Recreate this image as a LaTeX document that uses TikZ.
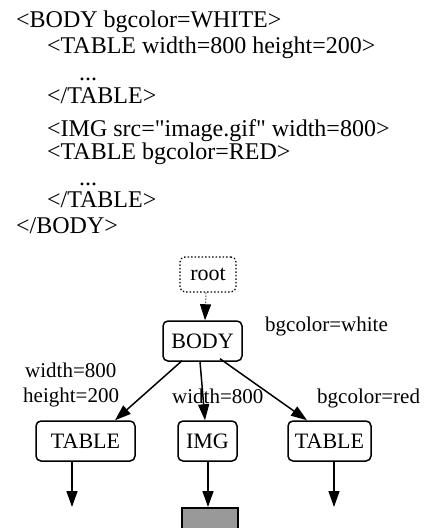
\documentclass[tikz,border=0pt]{standalone}
\usepackage{fontspec}
\setmainfont{Liberation Serif}[Ligatures=TeXOff]
\usetikzlibrary{arrows.meta,calc}
\definecolor{boxgray}{gray}{0.6}
\begin{document}
\begin{tikzpicture}[x=1pt,y=-1pt,
  code/.style={anchor=base west,inner sep=0pt,font=\fontsize{24}{28}\selectfont},
  elabel/.style={anchor=base west,inner sep=0pt,font=\fontsize{21}{25}\selectfont},
  treenode/.style={draw,rounded corners=5pt,line width=1.5pt,inner sep=0pt,
    font=\fontsize{22}{26}\selectfont,minimum height=40pt},
  conn/.style={line width=1.5pt,-{Triangle[length=16pt,width=11pt]}},
]
\useasboundingbox (0,0) rectangle (426,528);
\clip (0,0) rectangle (426,528);

% HTML source
\node[code] (c1) at (16,27.7) {<BODY bgcolor=WHITE>};
\node[code] (c2) at (47,53.3) {<TABLE width=800 height=200>};
\node[code] (c3) at (79,80) {...};
\node[code] (c4) at (47,103) {</TABLE>};
\node[code] (c5) at (47,136) {<IMG src="image.gif" width=800>};
\node[code] (c6) at (47,159) {<TABLE bgcolor=RED>};
\node[code] (c7) at (79,185) {...};
\node[code] (c8) at (47,207) {</TABLE>};
\node[code] (c9) at (16,233) {</BODY>};

% tree nodes
\node[treenode,dotted,line width=1.2pt,minimum width=56pt,minimum height=35pt] (root) at (208,274.5) {root};
\node[treenode,minimum width=79pt] (body) at (202.5,341) {BODY};
\node[treenode,minimum width=99pt] (t1) at (85.5,441) {TABLE};
\node[treenode,minimum width=59pt] (img) at (207.5,441) {IMG};
\node[treenode,minimum width=83pt] (t2) at (329.5,441) {TABLE};
\node[draw,fill=boxgray,line width=1.5pt,minimum width=56pt,minimum height=40pt,
  inner sep=0pt,anchor=north] (pic) at (210,507) {};
\coordinate (e1) at (72,507);
\coordinate (e3) at (334,507);

% edge labels
\node[elabel] (lbg) at (265,331) {bgcolor=white};
\node[elabel] (lw1) at (25,377) {width=800};
\node[elabel] (lh1) at (23,402) {height=200};
\node[elabel] (lw2) at (172,403) {width=800};
\node[elabel] (lbr) at (317,403) {bgcolor=red};

% connectors
\draw[conn,line width=1pt,dotted] ($(root.south)+(-2,0)$) -- ($(body.north)+(2.5,0)$);
\draw[conn] ($(body.south)+(-20.5,-1)$) -- ($(t1.north)+(29.5,0)$);
\draw[conn] ($(body.south)+(-2.5,0)$) -- ($(img.north)+(-2.5,0)$);
\draw[conn] ($(body.south)+(17.5,-3)$) -- ($(t2.north)+(-22.5,0)$);
\draw[conn] ($(t1.south)+(-13.5,0)$) -- (e1);
\draw[conn] ($(img.south)+(0.5,0)$) -- ($(pic.north)+(-2,0)$);
\draw[conn] ($(t2.south)+(4.5,0)$) -- (e3);
\end{tikzpicture}
\end{document}
